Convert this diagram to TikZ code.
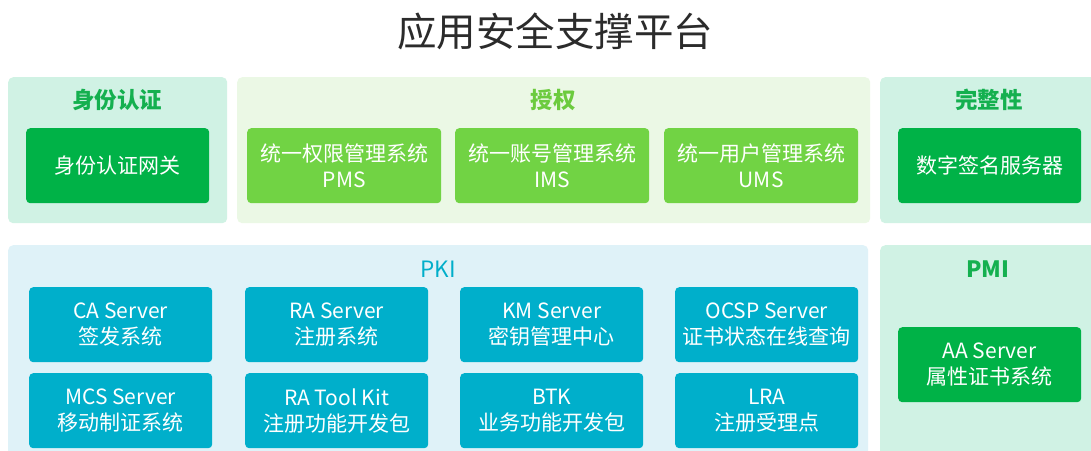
\documentclass[tikz,border=0pt]{standalone}
\usepackage{fontspec}
\setmainfont{Noto Sans CJK SC}
\begin{document}
\begin{tikzpicture}[x=1pt,y=-1pt,
  panel/.style={draw=none,rounded corners=5pt,anchor=north west,inner sep=0pt},
  ptitle/.style={font=\fontsize{22.5}{26}\selectfont\bfseries},
  box/.style={rounded corners=4pt,anchor=north west,inner sep=0pt,text=white,align=center,
    font=\fontsize{21}{26}\selectfont},
  gbox/.style={box,fill=boxgreen,minimum width=183pt,minimum height=75pt},
  lbox/.style={box,fill=boxlight,minimum width=194pt,minimum height=75pt},
  cbox/.style={box,fill=boxcyan,minimum width=183pt,minimum height=75pt}
]
\definecolor{bgmint}{HTML}{D0F2E4}
\definecolor{bglight}{HTML}{EBF8E5}
\definecolor{bgcyan}{HTML}{DFF2F8}
\definecolor{boxgreen}{HTML}{00B247}
\definecolor{boxlight}{HTML}{71D344}
\definecolor{boxcyan}{HTML}{00AFCB}
\definecolor{labgreen}{HTML}{14B04F}
\definecolor{lablight}{HTML}{6CCB3E}
\definecolor{labcyan}{HTML}{00AECA}
\definecolor{titlegray}{HTML}{2B2B2B}
\useasboundingbox (0,0) rectangle (1091,450);
\fill[white] (0,0) rectangle (1091,450);

% title
\node[text=titlegray,font=\fontsize{39.5}{44}\selectfont] (title) at (555,31) {应用安全支撑平台};

% top panels
\node[panel,fill=bgmint,minimum width=219pt,minimum height=146pt] (p1) at (8,77) {};
\node[panel,fill=bglight,minimum width=633pt,minimum height=146pt] (p2) at (237,77) {};
\node[panel,fill=bgmint,minimum width=220pt,minimum height=146pt] (p3) at (880,77) {};

\node[ptitle,text=labgreen] (t1) at (117,100) {身份认证};
\node[ptitle,text=lablight] (t2) at (553,100) {授权};
\node[ptitle,text=labgreen] (t3) at (989,100) {完整性};

\node[gbox] (b1) at (26,128) {身份认证网关};
\node[lbox] (b2) at (247,128) {统一权限管理系统\\PMS};
\node[lbox] (b3) at (455,128) {统一账号管理系统\\IMS};
\node[lbox] (b4) at (664,128) {统一用户管理系统\\UMS};
\node[gbox] (b5) at (898,128) {数字签名服务器};

% bottom panels
\node[panel,fill=bgcyan,minimum width=860pt,minimum height=215pt] (p4) at (8,245) {};
\node[panel,fill=bgmint,minimum width=220pt,minimum height=215pt] (p5) at (880,245) {};

\node[font=\fontsize{22.5}{26}\selectfont,text=labcyan] (t4) at (438,269) {PKI};
\node[ptitle,text=labgreen] (t5) at (988,269) {PMI};

\node[cbox] (c1) at (29,287) {CA Server\\签发系统};
\node[cbox] (c2) at (245,287) {RA Server\\注册系统};
\node[cbox] (c3) at (460,287) {KM Server\\密钥管理中心};
\node[cbox] (c4) at (675,287) {OCSP Server\\证书状态在线查询};
\node[cbox] (c5) at (29,373) {MCS Server\\移动制证系统};
\node[cbox] (c6) at (245,373) {RA Tool Kit\\注册功能开发包};
\node[cbox] (c7) at (460,373) {BTK\\业务功能开发包};
\node[cbox] (c8) at (675,373) {LRA\\注册受理点};

\node[gbox] (c9) at (898,327) {AA Server\\属性证书系统};
\end{tikzpicture}
\end{document}
